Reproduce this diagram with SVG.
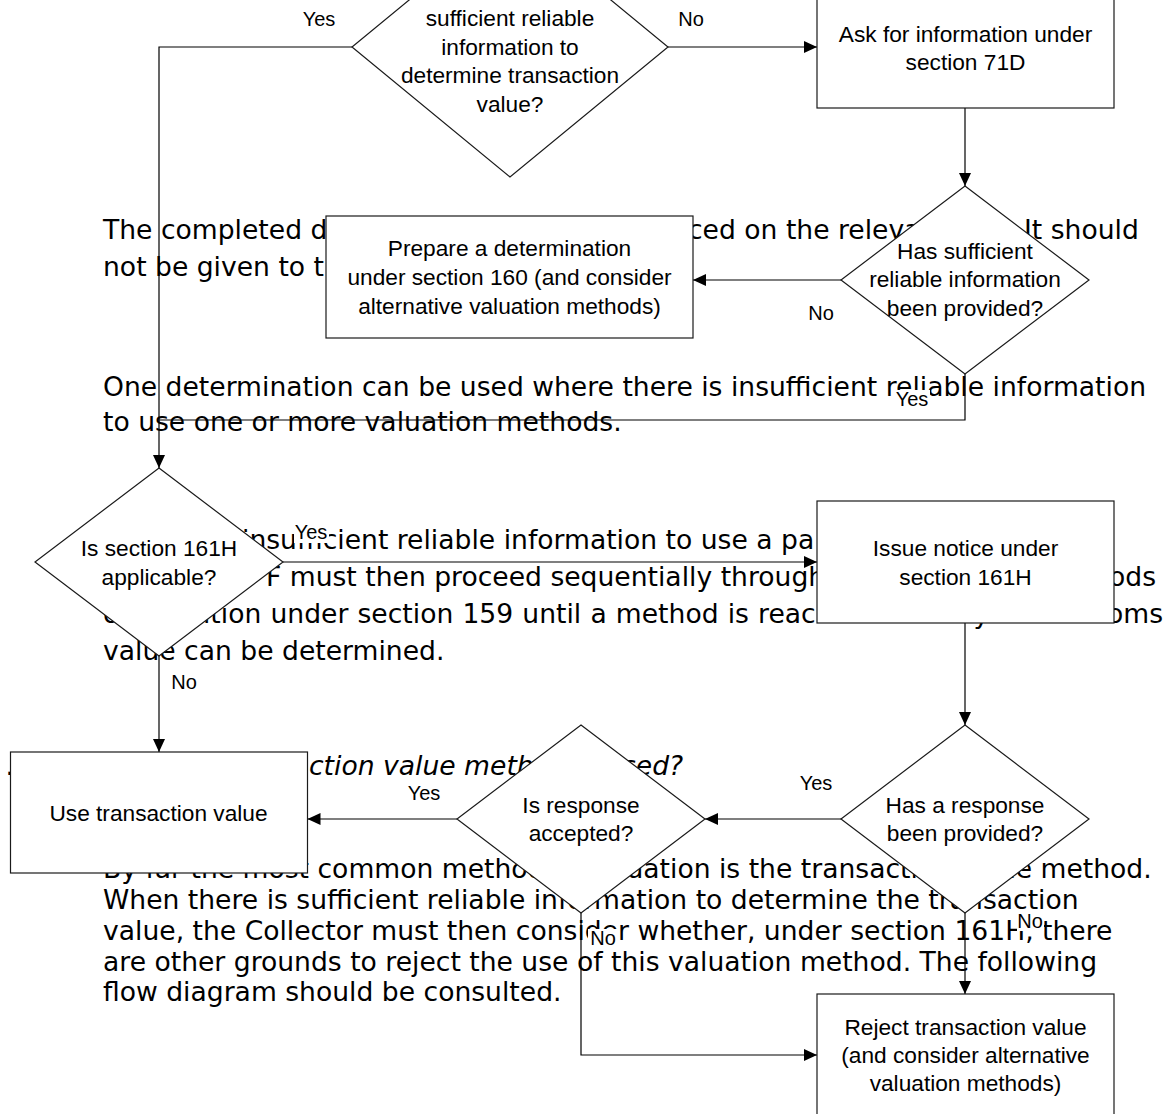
<svg xmlns="http://www.w3.org/2000/svg" width="1170" height="1114" viewBox="0 0 1170 1114">
<style>
.body{font-family:"DejaVu Sans",Verdana,sans-serif;font-size:26.6px;fill:#000}
.ital{font-style:italic}
.node rect,.node polygon{fill:#fff;stroke:#1a1a1a;stroke-width:1.2}
.nt{font-family:"Liberation Sans",Arial,sans-serif;font-size:22.7px;fill:#000;text-anchor:middle}
.conn path{fill:none;stroke:#000;stroke-width:1.2}
.lbl text{font-family:"Liberation Sans",Arial,sans-serif;font-size:20px;fill:#000;text-anchor:middle}
.lbl rect{fill:#fff}
</style>
<defs>
<marker id="arr" viewBox="0 0 13 12" refX="13" refY="6" markerWidth="13" markerHeight="12" markerUnits="userSpaceOnUse" orient="auto"><path d="M0,0 L13,6 L0,12 z" fill="#000"/></marker>
</defs>
<rect width="1170" height="1114" fill="#fff"/>
<g id="background-text" class="body">
<text x="103" y="239">The completed d</text>
<text x="688" y="239">ced on the releva</text>
<text x="1024" y="239">It should</text>
<text x="103" y="276">not be given to t</text>
<text x="103" y="396">One determination can be used where there is insufficient reliable information</text>
<text x="103" y="431">to use one or more valuation methods.</text>
<text x="242" y="549">insufficient reliable information to use a pa</text>
<text x="266" y="586">F must then proceed sequentially through</text>
<text x="1109" y="586">ods</text>
<text x="103" y="623" word-spacing="0.7">of valuation under section 159 until a method is reached whereby the customs</text>
<text x="103" y="660">value can be determined.</text>
<text x="5.5" y="775">.</text>
<text class="ital" x="309" y="775">ction value meth</text>
<text class="ital" x="622" y="775">sed?</text>
<text x="103" y="878">By far the most common method of valuation is the transaction value method.</text>
<text x="103" y="909">When there is sufficient reliable information to determine the transaction</text>
<text x="103" y="940">value, the Collector must then consider whether, under section 161H, there</text>
<text x="103" y="970.5">are other grounds to reject the use of this valuation method. The following</text>
<text x="103" y="1001">flow diagram should be consulted.</text>
</g>
<g id="connectors" class="conn">
<path d="M352,47 H159 V468" marker-end="url(#arr)"/>
<path d="M668,47 H817" marker-end="url(#arr)"/>
<path d="M965,108 V186" marker-end="url(#arr)"/>
<path d="M841,280 H693" marker-end="url(#arr)"/>
<path d="M965,374 V420 H159"/>
<path d="M283,562 H817" marker-end="url(#arr)"/>
<path d="M159,656 V752" marker-end="url(#arr)"/>
<path d="M965,623 V725" marker-end="url(#arr)"/>
<path d="M841,819 H705" marker-end="url(#arr)"/>
<path d="M457,819 H307.5" marker-end="url(#arr)"/>
<path d="M581,913 V1055 H817" marker-end="url(#arr)"/>
<path d="M965,913 V994" marker-end="url(#arr)"/>
</g>
<g id="q1" class="node">
<polygon points="510,-83 668,47 510,177 352,47"/>
<text class="nt" x="510" y="26">sufficient reliable</text>
<text class="nt" x="510" y="54.5">information to</text>
<text class="nt" x="510" y="83">determine transaction</text>
<text class="nt" x="510" y="111.5">value?</text>
</g>
<g id="ask-info" class="node">
<rect x="817" y="-14" width="297" height="122"/>
<text class="nt" x="965.5" y="41.5">Ask for information under</text>
<text class="nt" x="965.5" y="69.5">section 71D</text>
</g>
<g id="q2" class="node">
<polygon points="965,186 1089,280 965,374 841,280"/>
<text class="nt" x="965" y="258.5">Has sufficient</text>
<text class="nt" x="965" y="287">reliable information</text>
<text class="nt" x="965" y="315.5">been provided?</text>
</g>
<g id="prepare" class="node">
<rect x="326" y="216" width="367" height="122"/>
<text class="nt" x="509.5" y="256">Prepare a determination</text>
<text class="nt" x="509.5" y="285">under section 160 (and consider</text>
<text class="nt" x="509.5" y="314">alternative valuation methods)</text>
</g>
<g id="q3" class="node">
<polygon points="159,468 283,562 159,656 35,562"/>
<text class="nt" x="159" y="556">Is section 161H</text>
<text class="nt" x="159" y="585">applicable?</text>
</g>
<g id="issue" class="node">
<rect x="817" y="501" width="297" height="122"/>
<text class="nt" x="965.5" y="556">Issue notice under</text>
<text class="nt" x="965.5" y="585">section 161H</text>
</g>
<g id="use-tv" class="node">
<rect x="10.5" y="752" width="297" height="121"/>
<text class="nt" x="158.5" y="820.5">Use transaction value</text>
</g>
<g id="q4" class="node">
<polygon points="581,725 705,819 581,913 457,819"/>
<text class="nt" x="581" y="813">Is response</text>
<text class="nt" x="581" y="841">accepted?</text>
</g>
<g id="q5" class="node">
<polygon points="965,725 1089,819 965,913 841,819"/>
<text class="nt" x="965" y="813">Has a response</text>
<text class="nt" x="965" y="841">been provided?</text>
</g>
<g id="reject" class="node">
<rect x="817" y="994" width="297" height="122"/>
<text class="nt" x="965.5" y="1035">Reject transaction value</text>
<text class="nt" x="965.5" y="1063">(and consider alternative</text>
<text class="nt" x="965.5" y="1091">valuation methods)</text>
</g>
<g id="labels" class="lbl">
<rect x="300" y="9" width="38" height="21"/><text x="319" y="26">Yes</text>
<rect x="677" y="9" width="29" height="21"/><text x="691" y="26">No</text>
<rect x="807" y="303" width="29" height="21"/><text x="821" y="320">No</text>
<rect x="894" y="390" width="36" height="20"/><text x="912" y="406">Yes</text>
<rect x="294" y="523" width="35" height="20"/><text x="311" y="539">Yes</text>
<rect x="170" y="672" width="29" height="21"/><text x="184" y="689">No</text>
<rect x="797" y="773" width="38" height="21"/><text x="816" y="790">Yes</text>
<rect x="405" y="783" width="38" height="21"/><text x="424" y="800">Yes</text>
<rect x="588" y="929" width="30" height="19"/><text x="603" y="945">No</text>
<rect x="1017" y="911" width="27" height="20"/><text x="1030" y="928">No</text>
</g>
</svg>
